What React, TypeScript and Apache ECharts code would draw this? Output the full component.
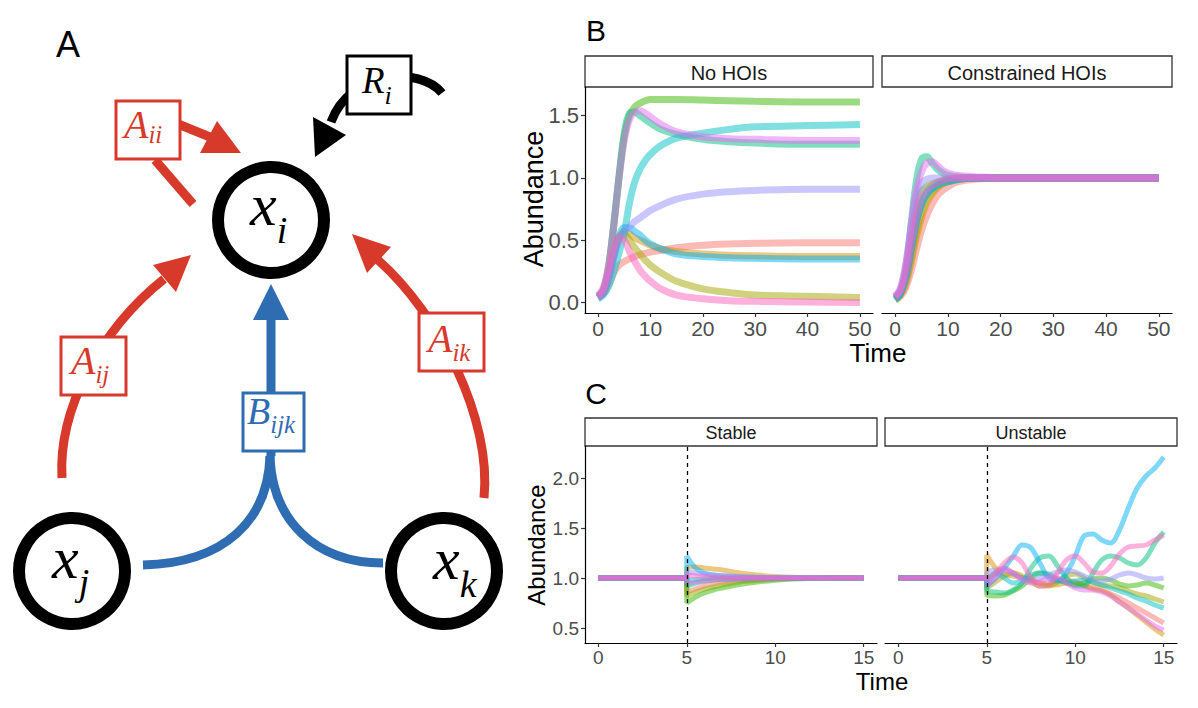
import React, { useEffect, useRef } from "react";
import * as echarts from "echarts";

// ---------- data ----------
const SPECIES = ["sp1", "sp2", "sp3", "sp4", "sp5", "sp6", "sp7", "sp8", "sp9", "sp10"];
const COLORS = ["#F8766D", "#D89000", "#A3A500", "#39B600", "#00BF7D", "#00BFC4", "#00B0F6", "#9590FF", "#E76BF3", "#FF62BC"];

const TIME_B = [0, 1, 2, 3, 4, 5, 6, 7, 8, 9, 10, 12, 15, 20, 25, 30, 40, 50];
const B_X_TICKS = [0, 10, 20, 30, 40, 50];
const B_Y_TICKS = [0, 0.5, 1, 1.5];

const NO_HOIS = [
  [0.04, 0.07, 0.14, 0.24, 0.3, 0.33, 0.35, 0.37, 0.385, 0.395, 0.405, 0.42, 0.44, 0.46, 0.47, 0.475, 0.48, 0.48],
  [0.04, 0.08, 0.2, 0.38, 0.52, 0.57, 0.55, 0.52, 0.5, 0.48, 0.46, 0.43, 0.41, 0.39, 0.38, 0.375, 0.37, 0.37],
  [0.04, 0.08, 0.2, 0.38, 0.52, 0.55, 0.5, 0.44, 0.39, 0.34, 0.3, 0.24, 0.17, 0.11, 0.08, 0.06, 0.05, 0.04],
  [0.05, 0.1, 0.28, 0.62, 1.0, 1.33, 1.5, 1.57, 1.6, 1.62, 1.63, 1.63, 1.63, 1.625, 1.62, 1.615, 1.61, 1.61],
  [0.05, 0.1, 0.28, 0.63, 1.02, 1.36, 1.52, 1.53, 1.5, 1.47, 1.44, 1.39, 1.35, 1.31, 1.29, 1.28, 1.27, 1.27],
  [0.03, 0.06, 0.13, 0.25, 0.4, 0.56, 0.8, 0.97, 1.07, 1.14, 1.19, 1.26, 1.32, 1.36, 1.39, 1.41, 1.42, 1.43],
  [0.04, 0.08, 0.2, 0.38, 0.53, 0.6, 0.6, 0.57, 0.54, 0.5, 0.47, 0.43, 0.39, 0.37, 0.36, 0.355, 0.35, 0.35],
  [0.04, 0.08, 0.2, 0.36, 0.5, 0.57, 0.61, 0.65, 0.68, 0.71, 0.74, 0.78, 0.83, 0.87, 0.89, 0.9, 0.91, 0.91],
  [0.06, 0.12, 0.3, 0.62, 1.0, 1.3, 1.47, 1.53, 1.54, 1.52, 1.49, 1.43, 1.37, 1.33, 1.315, 1.31, 1.3, 1.3],
  [0.04, 0.1, 0.25, 0.43, 0.52, 0.5, 0.41, 0.33, 0.26, 0.21, 0.17, 0.11, 0.06, 0.03, 0.015, 0.01, 0.005, 0.0],
];

const CONSTRAINED = [
  [0.02, 0.05, 0.12, 0.25, 0.42, 0.58, 0.7, 0.79, 0.86, 0.9, 0.93, 0.97, 0.99, 1, 1, 1, 1, 1],
  [0.03, 0.06, 0.15, 0.32, 0.52, 0.68, 0.8, 0.87, 0.92, 0.95, 0.97, 0.99, 1, 1, 1, 1, 1, 1],
  [0.03, 0.07, 0.17, 0.36, 0.57, 0.73, 0.83, 0.89, 0.93, 0.96, 0.97, 0.99, 1, 1, 1, 1, 1, 1],
  [0.04, 0.1, 0.26, 0.52, 0.76, 0.89, 0.93, 0.95, 0.97, 0.98, 0.99, 1, 1, 1, 1, 1, 1, 1],
  [0.02, 0.07, 0.25, 0.62, 0.97, 1.15, 1.17, 1.12, 1.07, 1.04, 1.02, 1.01, 1, 1, 1, 1, 1, 1],
  [0.04, 0.08, 0.2, 0.42, 0.65, 0.8, 0.88, 0.92, 0.95, 0.97, 0.98, 0.99, 1, 1, 1, 1, 1, 1],
  [0.03, 0.08, 0.2, 0.42, 0.64, 0.79, 0.87, 0.91, 0.94, 0.96, 0.97, 0.99, 1, 1, 1, 1, 1, 1],
  [0.05, 0.1, 0.3, 0.6, 0.85, 0.96, 0.99, 1.0, 1.0, 1.0, 1.0, 1.0, 1, 1, 1, 1, 1, 1],
  [0.05, 0.12, 0.3, 0.6, 0.9, 1.05, 1.12, 1.13, 1.1, 1.06, 1.04, 1.02, 1.01, 1, 1, 1, 1, 1],
  [0.04, 0.09, 0.22, 0.45, 0.68, 0.83, 0.9, 0.94, 0.96, 0.98, 0.99, 1, 1, 1, 1, 1, 1, 1],
];

const C_X_TICKS = [0, 5, 10, 15];
const C_Y_TICKS = [0.5, 1, 1.5, 2];
const PERTURB_TIME = 5;

const TIME_C1 = [0, 5, 5, 5.5, 6, 6.5, 7, 8, 9, 10, 11, 12, 13, 15];
const STABLE = [
  [1, 1, 0.86, 0.89, 0.92, 0.94, 0.955, 0.975, 0.985, 0.993, 0.997, 1, 1, 1],
  [1, 1, 1.1, 1.11, 1.1, 1.09, 1.08, 1.05, 1.03, 1.015, 1.007, 1.003, 1, 1],
  [1, 1, 0.82, 0.86, 0.89, 0.91, 0.93, 0.96, 0.975, 0.987, 0.994, 0.998, 1, 1],
  [1, 1, 0.75, 0.81, 0.85, 0.88, 0.9, 0.935, 0.96, 0.978, 0.99, 0.996, 1, 1],
  [1, 1, 0.92, 0.95, 0.97, 0.98, 0.985, 0.993, 0.997, 1, 1, 1, 1, 1],
  [1, 1, 0.97, 0.985, 0.993, 0.997, 1, 1, 1, 1, 1, 1, 1, 1],
  [1, 1, 1.22, 1.1, 1.05, 1.03, 1.02, 1.01, 1.005, 1, 1, 1, 1, 1],
  [1, 1, 1.06, 1.05, 1.04, 1.03, 1.025, 1.015, 1.008, 1.004, 1.002, 1, 1, 1],
  [1, 1, 0.95, 0.96, 0.97, 0.98, 0.985, 0.99, 0.995, 0.998, 1, 1, 1, 1],
  [1, 1, 1.03, 1.02, 1.015, 1.01, 1.007, 1.004, 1.002, 1, 1, 1, 1, 1],
];

const TIME_C2 = [0, 5, 5, 5.5, 6, 6.5, 7, 7.5, 8, 8.5, 9, 9.5, 10, 10.5, 11, 11.5, 12, 12.5, 13, 13.5, 14, 14.5, 15];
const UNSTABLE = [
  [1, 1, 0.95, 1.05, 1.1, 1.05, 1.0, 0.97, 0.95, 0.95, 0.97, 0.98, 0.96, 0.93, 0.9, 0.88, 0.84, 0.8, 0.75, 0.7, 0.65, 0.6, 0.55],
  [1, 1, 1.23, 1.1, 1.04, 1.02, 1.0, 0.98, 0.95, 0.93, 0.93, 0.95, 0.95, 0.92, 0.89, 0.87, 0.83, 0.76, 0.7, 0.63, 0.56, 0.49, 0.43],
  [1, 1, 0.9, 0.96, 1.02, 1.05, 1.02, 0.96, 0.92, 0.92, 0.96, 1.02, 1.04, 1.0, 0.95, 0.93, 0.92, 0.9, 0.87, 0.84, 0.82, 0.79, 0.76],
  [1, 1, 0.83, 0.82, 0.83, 0.87, 0.92, 1.0, 1.05, 1.04, 0.99, 0.95, 0.93, 0.95, 0.99, 1.0, 0.98, 0.94, 0.92, 0.93, 0.95, 0.93, 0.9],
  [1, 1, 0.88, 0.86, 0.85, 0.88, 0.95, 1.1, 1.2, 1.22, 1.12, 1.0, 0.92, 0.92, 1.05, 1.18, 1.22, 1.2, 1.15, 1.13, 1.2, 1.35, 1.46],
  [1, 1, 1.0, 1.05, 1.0, 0.95, 0.97, 1.03, 1.05, 1.02, 0.98, 0.96, 0.97, 0.98, 0.96, 0.93, 0.9, 0.87, 0.84, 0.8, 0.77, 0.73, 0.7],
  [1, 1, 0.92, 1.0, 1.1, 1.22, 1.33, 1.3, 1.15, 1.0, 0.97, 1.05, 1.22, 1.42, 1.44, 1.38, 1.35, 1.48, 1.7, 1.9, 2.02, 2.1, 2.21],
  [1, 1, 1.05, 1.08, 1.08, 1.04, 1.0, 0.98, 1.0, 1.03, 1.06, 1.08, 1.06, 1.02, 0.98, 0.97, 0.99, 1.03, 1.05, 1.03, 1.0, 0.99, 1.0],
  [1, 1, 0.92, 1.0, 1.08, 1.05, 0.98, 0.95, 0.96, 1.0, 1.0, 0.95, 0.9, 0.88, 0.88, 0.86, 0.82, 0.76, 0.7, 0.64, 0.58, 0.52, 0.48],
  [1, 1, 1.0, 1.05, 1.15, 1.21, 1.15, 1.0, 0.92, 0.93, 1.05, 1.18, 1.22, 1.15, 1.06, 1.05, 1.12, 1.24, 1.31, 1.32, 1.33, 1.38, 1.43],
];

const STRIPS_B = ["No HOIs", "Constrained HOIs"];
const STRIPS_C = ["Stable", "Unstable"];

// ---------- styling ----------
const SANS = "'Liberation Sans', Arial, Helvetica, sans-serif";
const SERIF = "'Liberation Serif', 'Times New Roman', serif";
const RED = "#D7392B";
const BLUE = "#2F6DB3";

const GRIDS = [
  { left: 585, top: 87, width: 288, height: 226 },
  { left: 882, top: 87, width: 290, height: 226 },
  { left: 585, top: 446, width: 292, height: 197 },
  { left: 885, top: 446, width: 292, height: 197 },
];

function xAxisFor(grid: number, min: number, max: number, ticks: number[], fs: number) {
  return {
    type: "value",
    gridIndex: grid,
    min,
    max,
    axisLine: { show: true, onZero: false, lineStyle: { color: "#000", width: 1.2 } },
    axisTick: { show: true, customValues: ticks, length: 4, lineStyle: { color: "#333", width: 1.2 } },
    axisLabel: {
      show: true,
      customValues: ticks,
      fontSize: fs,
      color: "#4D4D4D",
      fontFamily: SANS,
      margin: 5,
      formatter: (v: number) => String(v),
    },
    splitLine: { show: false },
  };
}

function yAxisFor(grid: number, min: number, max: number, ticks: number[], fs: number, show: boolean) {
  return {
    type: "value",
    gridIndex: grid,
    min,
    max,
    axisLine: { show, onZero: false, lineStyle: { color: "#000", width: 1.2 } },
    axisTick: { show, customValues: ticks, length: 4, lineStyle: { color: "#333", width: 1.2 } },
    axisLabel: {
      show,
      customValues: ticks,
      fontSize: fs,
      color: "#4D4D4D",
      fontFamily: SANS,
      margin: 6,
      formatter: (v: number) => v.toFixed(1),
    },
    splitLine: { show: false },
  };
}

function makeSeries(panel: number, times: number[], values: number[][], width: number, vline: boolean) {
  return values.map((vals, i) => {
    const s: any = {
      type: "line",
      name: SPECIES[i],
      xAxisIndex: panel,
      yAxisIndex: panel,
      data: times.map((t, k) => [t, vals[k]]),
      showSymbol: false,
      symbol: "none",
      smooth: 0.35,
      silent: true,
      lineStyle: { color: COLORS[i], width, opacity: 0.5, cap: "butt" },
      itemStyle: { color: COLORS[i] },
    };
    if (vline && i === values.length - 1) {
      s.markLine = {
        silent: true,
        symbol: ["none", "none"],
        label: { show: false },
        lineStyle: { type: [4, 4], color: "#000", width: 1.3, opacity: 1 },
        data: [{ xAxis: PERTURB_TIME }],
      };
    }
    return s;
  });
}

// ---------- graphic helpers (panel A + labels) ----------
const gLine = (x1: number, y1: number, x2: number, y2: number, c: string, w: number) => ({
  type: "line",
  shape: { x1, y1, x2, y2 },
  style: { stroke: c, lineWidth: w, lineCap: "butt" },
  silent: true,
});
const gBez = (x1: number, y1: number, cpx1: number, cpy1: number, cpx2: number, cpy2: number, x2: number, y2: number, c: string, w: number) => ({
  type: "bezierCurve",
  shape: { x1, y1, cpx1, cpy1, cpx2, cpy2, x2, y2 },
  style: { stroke: c, lineWidth: w, fill: "none", lineCap: "butt" },
  silent: true,
});
const gTri = (pts: number[][], c: string) => ({
  type: "polygon",
  shape: { points: pts },
  style: { fill: c, stroke: "none" },
  silent: true,
});
const gBox = (x: number, y: number, w: number, h: number, c: string, lw: number) => ({
  type: "rect",
  shape: { x, y, width: w, height: h },
  style: { fill: "#fff", stroke: c, lineWidth: lw },
  silent: true,
});
const gText = (x: number, y: number, text: string, size: number, color: string, family: string, italic: boolean, rotation = 0) => ({
  type: "text",
  x,
  y,
  rotation,
  style: {
    text,
    fill: color,
    fontSize: size,
    fontFamily: family,
    fontStyle: italic ? "italic" : "normal",
    align: "center",
    verticalAlign: "middle",
    textAlign: "center",
    textVerticalAlign: "middle",
  },
  silent: true,
});
// italic symbol with a subscript, as one rich text
const gSub = (left: number, baseMid: number, base: string, sub: string, baseSize: number, subSize: number, color: string, subMid: number) => {
  const top = baseMid - baseSize / 2;
  const drop = Math.max(0, subMid - subSize / 2 - top);
  return {
    type: "text",
    x: left,
    y: top,
    style: {
      text: `{b|${base}}{s|${sub}}`,
      align: "left",
      verticalAlign: "top",
      textAlign: "left",
      textVerticalAlign: "top",
      fill: color,
      rich: {
        b: { fontSize: baseSize, lineHeight: baseSize, fontFamily: SERIF, fontStyle: "italic", fill: color, color, verticalAlign: "top", align: "left" },
        s: { fontSize: subSize, lineHeight: subSize, fontFamily: SERIF, fontStyle: "italic", fill: color, color, padding: [drop, 0, 0, 0], verticalAlign: "top", align: "left" },
      },
    },
    silent: true,
  };
};
const gCircle = (cx: number, cy: number, r: number) => ({
  type: "circle",
  shape: { cx, cy, r },
  style: { fill: "#fff", stroke: "#000", lineWidth: 12 },
  silent: true,
});

function panelA() {
  const e: any[] = [];
  e.push(gText(68, 44, "A", 36, "#000", SANS, false));
  // R_i
  e.push(gBez(442, 93, 420, 66, 350, 70, 331, 122, "#000", 9));
  e.push(gTri([[313, 117], [346, 135], [315, 157]], "#000"));
  e.push(gBox(347, 56, 64, 58, "#000", 3));
  e.push(gSub(362, 80, "R", "i", 37, 26, "#000", 95));
  // A_ii
  e.push(gLine(193, 204, 155, 160, RED, 9));
  e.push(gLine(178, 124, 210, 137, RED, 9));
  e.push(gTri([[200, 153], [217, 121], [241, 153]], RED));
  e.push(gBox(116, 101, 64, 58, RED, 3));
  e.push(gSub(124, 124, "A", "ii", 40, 25, RED, 134));
  // A_ij
  e.push(gBez(62, 478, 58, 410, 100, 330, 164, 279, RED, 9));
  e.push(gTri([[153, 265], [176, 292], [191, 255]], RED));
  e.push(gBox(61, 337, 65, 58, RED, 3));
  e.push(gSub(71, 360, "A", "ij", 40, 25, RED, 374));
  // A_ik
  e.push(gBez(484, 498, 492, 420, 440, 315, 378, 260, RED, 9));
  e.push(gTri([[391, 247], [367, 273], [352, 234]], RED));
  e.push(gBox(419, 313, 65, 58, RED, 3));
  e.push(gSub(428, 338, "A", "ik", 40, 25, RED, 352));
  // B_ijk
  e.push(gBez(143, 565, 225, 563, 268, 520, 270, 456, BLUE, 9));
  e.push(gBez(383, 563, 315, 563, 272, 520, 270, 456, BLUE, 9));
  e.push(gLine(271, 456, 271, 318, BLUE, 9));
  e.push(gTri([[253, 320], [289, 320], [271, 284]], BLUE));
  e.push(gBox(243, 393, 61, 58, BLUE, 3));
  e.push(gSub(247, 411, "B", "ijk", 38, 25, BLUE, 424));
  // nodes
  e.push(gCircle(271, 220, 53));
  e.push(gSub(250, 205, "x", "i", 60, 38, "#000", 230));
  e.push(gCircle(72, 571, 53));
  e.push(gSub(52, 558, "x", "j", 60, 38, "#000", 582));
  e.push(gCircle(444, 571, 53));
  e.push(gSub(433, 559, "x", "k", 60, 38, "#000", 584));
  return e;
}

function stripsAndLabels() {
  const e: any[] = [];
  const strip = (g: any, y: number, h: number, label: string, fs: number) => {
    e.push(gBox(g.left, y, g.width, h, "#333", 1.3));
    e.push(gText(g.left + g.width / 2, y + h / 2 + 1, label, fs, "#1A1A1A", SANS, false));
  };
  strip(GRIDS[0], 56, 31, STRIPS_B[0], 20);
  strip(GRIDS[1], 56, 31, STRIPS_B[1], 20);
  strip(GRIDS[2], 418, 28, STRIPS_C[0], 18);
  strip(GRIDS[3], 418, 28, STRIPS_C[1], 18);
  e.push(gText(596, 30, "B", 30, "#000", SANS, false));
  e.push(gText(596, 393, "C", 30, "#000", SANS, false));
  e.push(gText(534, 199, "Abundance", 27, "#000", SANS, false, Math.PI / 2));
  e.push(gText(536, 545, "Abundance", 24, "#000", SANS, false, Math.PI / 2));
  e.push(gText(878, 353, "Time", 26, "#000", SANS, false));
  e.push(gText(882, 681, "Time", 24, "#000", SANS, false));
  return e;
}

export default function App() {
  const ref = useRef<HTMLDivElement>(null);
  useEffect(() => {
    document.body.style.margin = "0";
    if (!ref.current) return;
    const chart = echarts.init(ref.current, undefined, { renderer: "svg" });
    const option: any = {
      animation: false,
      backgroundColor: "#fff",
      textStyle: { fontFamily: SANS },
      grid: GRIDS.map((g) => ({ ...g, containLabel: false, outerBoundsMode: "none" })),
      xAxis: [
        xAxisFor(0, -2.5, 52.5, B_X_TICKS, 21),
        xAxisFor(1, -2.5, 52.5, B_X_TICKS, 21),
        xAxisFor(2, -0.75, 15.75, C_X_TICKS, 19),
        xAxisFor(3, -0.75, 15.75, C_X_TICKS, 19),
      ],
      yAxis: [
        yAxisFor(0, -0.084, 1.73, B_Y_TICKS, 22, true),
        yAxisFor(1, -0.084, 1.73, B_Y_TICKS, 22, false),
        yAxisFor(2, 0.35, 2.32, C_Y_TICKS, 19, true),
        yAxisFor(3, 0.35, 2.32, C_Y_TICKS, 19, false),
      ],
      series: [
        ...makeSeries(0, TIME_B, NO_HOIS, 7, false),
        ...makeSeries(1, TIME_B, CONSTRAINED, 7, false),
        ...makeSeries(2, TIME_C1, STABLE, 5, true),
        ...makeSeries(3, TIME_C2, UNSTABLE, 5, true),
      ],
      graphic: { elements: [...panelA(), ...stripsAndLabels()] },
    };
    chart.setOption(option);
    return () => chart.dispose();
  }, []);
  return <div ref={ref} style={{ width: 1198, height: 708 }} />;
}
